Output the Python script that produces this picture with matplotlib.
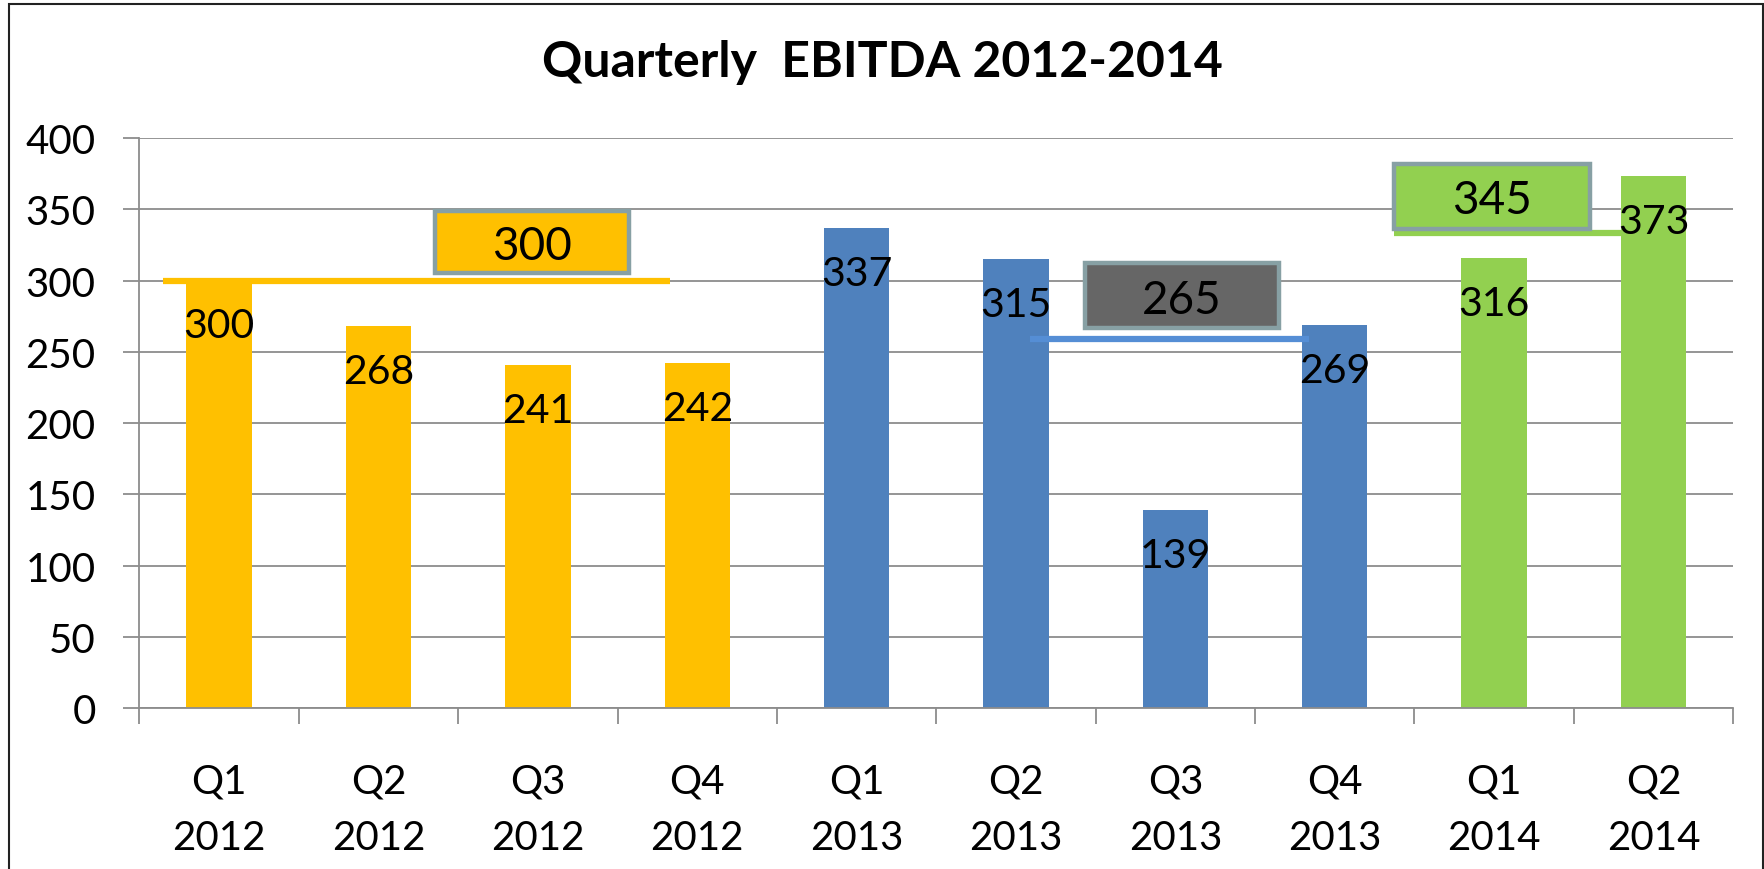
import matplotlib
matplotlib.use("Agg")
import matplotlib.pyplot as plt
import matplotlib.patches as patches
import numpy as np

# datos
trimestres = ['Q1', 'Q2', 'Q3', 'Q4', 'Q1', 'Q2', 'Q3', 'Q4', 'Q1', 'Q2']
anios = ['2012', '2012', '2012', '2012', '2013', '2013', '2013', '2013', '2014', '2014']
ebitda = [300, 268, 241, 242, 337, 315, 139, 269, 316, 373]

colores_anio = {'2012': '#FFC000', '2013': '#4F81BD', '2014': '#92D050'}

# promedios anuales (texto de la caja) y nivel de la linea dibujada
prom_texto = ['300', '265', '345']
prom_linea = [300, 259, 333]

fig = plt.figure(figsize=(17.65, 8.70), dpi=100)
ax = fig.add_axes([0.079, 0.1847, 0.903, 0.6556])

x = np.arange(len(ebitda))
colores = [colores_anio[a] for a in anios]
ax.bar(x, ebitda, width=0.41, color=colores, zorder=2)

# etiquetas de datos dentro de cada barra
for xi, v in zip(x, ebitda):
    ax.annotate(str(v), (xi, v), xytext=(0, -41), textcoords='offset points',
                ha='center', va='baseline', fontsize=29.5, family='Lato',
                zorder=5)

# lineas de promedio y cajas
borde = '#87A0A4'
lineas = [(-0.35, 2.83, '#FFC000'), (5.09, 6.84, '#558ED5'), (7.37, 8.81, '#92D050')]
cajas = [(1.354, 2.571, 305, 349, '#FFC000'),
         (5.43, 6.65, 267, 312, '#666666'),
         (7.37, 8.60, 336, 382, '#92D050')]
for (x0, x1, c), nivel in zip(lineas, prom_linea):
    ax.plot([x0, x1], [nivel, nivel], color=c, lw=4.5, solid_capstyle='butt', zorder=3)
for (x0, x1, y0, y1, c), t in zip(cajas, prom_texto):
    ax.add_patch(patches.Rectangle((x0, y0), x1 - x0, y1 - y0, facecolor=c,
                                   edgecolor=borde, lw=3.2, zorder=4, clip_on=False))
    ax.text((x0 + x1) / 2, (y0 + y1) / 2, t, ha='center', va='center_baseline',
            fontsize=33, family='Lato', zorder=5)

ax.set_xlim(-0.5, len(ebitda) - 0.5)
ax.set_ylim(0, 400)
ax.set_yticks(range(0, 401, 50))
ax.set_xticks(x)
ax.set_xticklabels([f'{q}\n{a}' for q, a in zip(trimestres, anios)],
                   family='Lato', fontsize=29, linespacing=1.66)
ax.set_xticks(np.arange(-0.5, len(ebitda), 1), minor=True)
for lab in ax.get_yticklabels():
    lab.set_family('Lato')
    lab.set_fontsize(29)

gris = '#8C8C8C'
ax.grid(axis='y', color=gris, lw=1.3)
ax.set_axisbelow(True)
for s in ['top', 'right']:
    ax.spines[s].set_visible(False)
for s in ['left', 'bottom']:
    ax.spines[s].set_color(gris)
    ax.spines[s].set_linewidth(1.3)
ax.tick_params(axis='y', length=11.5, width=1.3, color=gris, pad=20)
ax.tick_params(axis='x', which='major', length=0, pad=39)
ax.tick_params(axis='x', which='minor', length=11.5, width=1.3, color=gris)

fig.text(0.5, 0.9118, 'Quarterly  EBITDA 2012-2014', ha='center', va='baseline',
         fontsize=36, fontweight='bold', family='Lato')

fig.patches.append(patches.Rectangle((0.005, -0.02), 0.994, 1.014, transform=fig.transFigure,
                                     fill=False, edgecolor='#222222', lw=1.5))

fig.savefig('out.png', dpi=100)
